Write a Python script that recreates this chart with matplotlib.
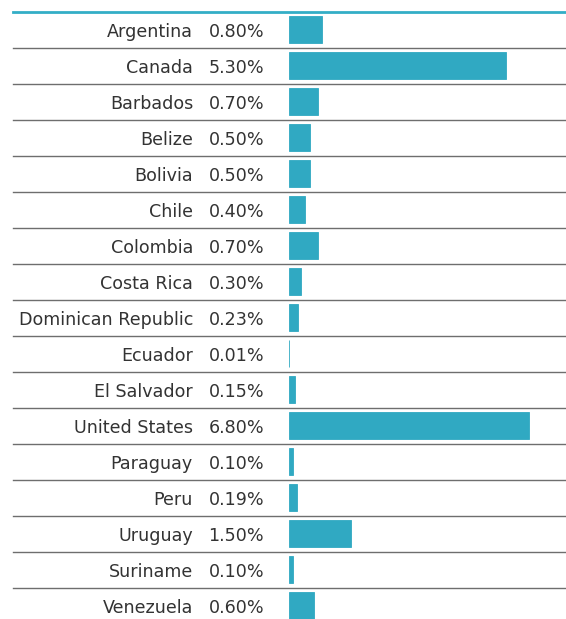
import matplotlib
matplotlib.use("Agg")
import matplotlib.pyplot as plt
from matplotlib import transforms
from matplotlib.lines import Line2D

countries = ["Argentina", "Canada", "Barbados", "Belize", "Bolivia", "Chile",
             "Colombia", "Costa Rica", "Dominican Republic", "Ecuador",
             "El Salvador", "United States", "Paraguay", "Peru", "Uruguay",
             "Suriname", "Venezuela"]
pct_labels = ["0.80%", "5.30%", "0.70%", "0.50%", "0.50%", "0.40%", "0.70%",
              "0.30%", "0.23%", "0.01%", "0.15%", "6.80%", "0.10%", "0.19%",
              "1.50%", "0.10%", "0.60%"]
# bar lengths as drawn in the picture (United States bar is drawn shorter)
bar_values = [0.80, 5.30, 0.70, 0.50, 0.50, 0.40, 0.70, 0.30, 0.23, 0.01,
              0.15, 5.85, 0.10, 0.19, 1.50, 0.10, 0.60]

W, H = 566, 619
fig = plt.figure(figsize=(W / 100, H / 100), dpi=100)
fig.patch.set_facecolor("white")

bar_left = 289
px_per_unit = 41.0
ax = fig.add_axes([bar_left / W, 0, 1 - bar_left / W, 1])
ax.set_xlim(0, (W - bar_left) / px_per_unit)
row_h = 36.0
first_center = 29.5
ax.set_ylim((H - first_center) / row_h, -first_center / row_h)
ax.axis("off")

bar_color = "#30a9c2"
ys = list(range(len(countries)))
ax.barh(ys, bar_values, height=0.75, color=bar_color, left=0,
        edgecolor=bar_color, linewidth=0.6)

tr = transforms.blended_transform_factory(fig.transFigure, ax.transData)
fp = dict(family=["DejaVu Sans"], fontsize=12.6, color="#333333")
for i, (c, p) in enumerate(zip(countries, pct_labels)):
    ax.text(193 / W, i + 0.06, c, transform=tr, ha="right", va="center", **fp)
    ax.text(264 / W, i + 0.06, p, transform=tr, ha="right", va="center", **fp)

# separators
for i in range(len(countries)):
    ax.add_line(Line2D([13 / W, 1], [i + 0.5, i + 0.5], transform=tr,
                       color="#6e6e6e", lw=1.0, clip_on=False))
ax.add_line(Line2D([13 / W, 1], [-0.5, -0.5], transform=tr,
                   color="#33aec6", lw=2.0, clip_on=False))

fig.savefig("out.png", dpi=100)
